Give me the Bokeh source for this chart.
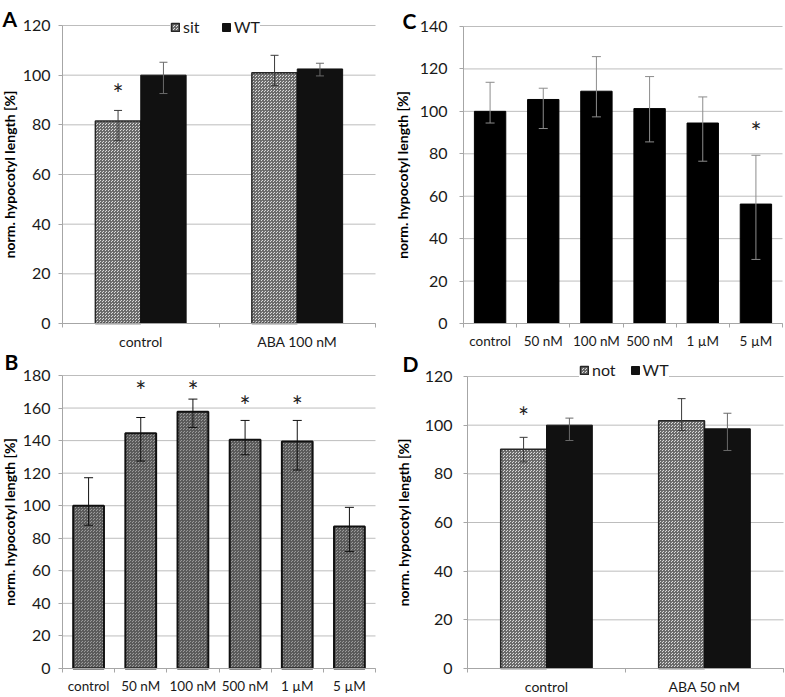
from bokeh.plotting import figure
from bokeh.models import (ColumnDataSource, Whisker, TeeHead, FixedTicker, Label,
                          Legend, LegendItem, Range1d)
from bokeh.layouts import column, row
from bokeh.embed import file_html
from bokeh.resources import INLINE
from bokeh.core.properties import value

# ---------------- data ----------------
# Panel A
a_groups = ["control", "ABA 100 nM"]
a_sit = [81.5, 101.0]
a_sit_lo = [73.6, 95.8]
a_sit_hi = [85.8, 108.0]
a_wt = [100.0, 102.5]
a_wt_lo = [92.6, 99.7]
a_wt_hi = [105.2, 104.8]
a_star_group = ["control"]
a_star_y = [95.0]
a_yticks = [0, 20, 40, 60, 80, 100, 120]

# Panel B
b_conc = ["control", "50 nM", "100 nM", "500 nM", "1 µM", "5 µM"]
b_val = [100.0, 144.5, 157.7, 140.5, 139.5, 87.3]
b_lo = [88.0, 127.4, 148.1, 131.3, 121.9, 71.8]
b_hi = [117.2, 154.2, 165.5, 152.4, 152.4, 99.0]
b_star_conc = ["50 nM", "100 nM", "500 nM", "1 µM"]
b_star_y = [174.3, 174.3, 164.7, 164.7]
b_yticks = [0, 20, 40, 60, 80, 100, 120, 140, 160, 180]

# Panel C
c_conc = ["control", "50 nM", "100 nM", "500 nM", "1 µM", "5 µM"]
c_val = [100.0, 105.6, 109.5, 101.3, 94.5, 56.3]
c_lo = [94.5, 91.9, 97.4, 85.6, 76.5, 30.2]
c_hi = [113.7, 110.9, 125.8, 116.4, 106.8, 79.3]
c_star_conc = ["5 µM"]
c_star_y = [93.0]
c_yticks = [0, 20, 40, 60, 80, 100, 120, 140]

# Panel D
d_groups = ["control", "ABA 50 nM"]
d_not = [90.1, 101.8]
d_not_lo = [84.9, 97.8]
d_not_hi = [95.0, 110.9]
d_wt = [100.0, 98.5]
d_wt_lo = [93.7, 89.6]
d_wt_hi = [102.9, 104.9]
d_star_group = ["control"]
d_star_y = [106.0]
d_yticks = [0, 20, 40, 60, 80, 100, 120]

FONT = "Lato"
GRID = "#bdbdbd"
AXIS = "#a6a6a6"
TXT = "#1a1a1a"


def base(W, H, cats, yticks, box, lab_standoff, letter, letter_pos, xfs="14px"):
    """box = (left, right, top, bottom) pixel edges of the plotting area."""
    n = len(cats)
    L, R, T, B = box
    ymax = yticks[-1]
    ux = n / (R - L)
    uy = ymax / (B - T)
    xr = Range1d(0.5 - L * ux, n + 0.5 + (W - R) * ux)
    yr = Range1d(-(H - B) * uy, ymax + T * uy)
    p = figure(width=W, height=H, output_backend="svg", toolbar_location=None,
               x_range=xr, y_range=yr, title=None,
               min_border_left=0, min_border_right=0, min_border_top=0,
               min_border_bottom=0)
    p.outline_line_color = None
    p.background_fill_color = "white"
    p.border_fill_color = "white"
    p.grid.visible = False
    # horizontal grid lines restricted to the plotting area
    p.segment(x0=[0.5] * len(yticks), x1=[n + 0.5] * len(yticks), y0=yticks, y1=yticks,
              line_color=GRID, line_width=1)
    # y axis
    p.yaxis.fixed_location = 0.5
    p.yaxis.bounds = (yticks[0], ymax)
    p.yaxis.ticker = FixedTicker(ticks=yticks)
    p.yaxis.axis_line_color = AXIS
    p.yaxis.major_tick_line_color = AXIS
    p.yaxis.major_tick_out = 4
    p.yaxis.major_tick_in = 0
    p.yaxis.minor_tick_line_color = None
    p.yaxis.major_label_text_font = FONT
    p.yaxis.major_label_text_font_size = "16px"
    p.yaxis.major_label_text_color = TXT
    p.yaxis.major_label_standoff = lab_standoff[0]
    p.yaxis.axis_label = "norm. hypocotyl length [%]"
    p.yaxis.axis_label_text_font = FONT
    p.yaxis.axis_label_text_font_style = "bold"
    p.yaxis.axis_label_text_font_size = "14px"
    p.yaxis.axis_label_text_color = "#000000"
    p.yaxis.axis_label_standoff = lab_standoff[1]
    # x axis: labels at category centres, separator ticks between categories
    centres = [i + 1 for i in range(n)]
    seps = [i + 0.5 for i in range(n + 1)]
    p.xaxis.fixed_location = 0
    p.xaxis.bounds = (0.5, n + 0.5)
    p.xaxis.ticker = FixedTicker(ticks=centres, minor_ticks=seps)
    p.xaxis.major_label_overrides = {c: lab for c, lab in zip(centres, cats)}
    p.xaxis.axis_line_color = AXIS
    p.xaxis.major_tick_line_color = None
    p.xaxis.major_tick_out = 0
    p.xaxis.minor_tick_line_color = AXIS
    p.xaxis.minor_tick_out = 4
    p.xaxis.minor_tick_in = 0
    p.xaxis.major_label_text_font = FONT
    p.xaxis.major_label_text_font_size = xfs
    p.xaxis.major_label_text_color = TXT
    p.xaxis.major_label_standoff = 5
    # panel letter (pixel position converted to data coordinates)
    lx = xr.start + letter_pos[0] * ux
    ly = yr.end - letter_pos[1] * uy
    p.add_layout(Label(x=lx, y=ly, text=letter, text_font=FONT, text_font_style="bold",
                       text_font_size="21px", text_color="#000000",
                       text_baseline="alphabetic", text_align="left"))
    return p


def whisk(p, x, lo, hi, color, size):
    src = ColumnDataSource(dict(x=x, lo=lo, hi=hi))
    w = Whisker(base="x", lower="lo", upper="hi", source=src, level="overlay",
                line_color=color, line_width=1,
                upper_head=TeeHead(size=size, line_color=color, line_width=1),
                lower_head=TeeHead(size=size, line_color=color, line_width=1))
    p.add_layout(w)


def stars(p, cats, star_cats, star_y, dx=0.0):
    xs = [cats.index(c) + 1 + dx for c in star_cats]
    p.text(x=xs, y=star_y, text=["*"] * len(xs), text_font=value(FONT),
           text_font_size="26px", text_align="center", text_baseline="middle",
           text_color="#222222", y_offset=6)


def grouped(p, groups, s1, s1lo, s1hi, s2, s2lo, s2hi, names, star_group, star_y,
            legend_loc, spacing):
    bw = 0.29
    x1 = [i + 1 - bw / 2 for i in range(len(groups))]
    x2 = [i + 1 + bw / 2 for i in range(len(groups))]
    r1 = p.vbar(x=x1, top=s1, width=bw, bottom=0, fill_color="#dadada",
                hatch_pattern="criss_cross", hatch_color="#6a6a6a", hatch_scale=3,
                hatch_weight=1, line_color="#262626", line_width=1.5)
    r2 = p.vbar(x=x2, top=s2, width=bw, bottom=0, fill_color="#111111",
                line_color="#111111", line_width=1)
    whisk(p, x1, s1lo, s1hi, "#3a3a3a", 8)
    whisk(p, x2, s2lo, s2hi, "#6a6a6a", 8)
    stars(p, groups, star_group, star_y, dx=-bw / 2)
    leg = Legend(items=[LegendItem(label=names[0], renderers=[r1]),
                        LegendItem(label=names[1], renderers=[r2])],
                 orientation="horizontal", location=legend_loc,
                 background_fill_color="white", background_fill_alpha=1.0,
                 border_line_color=None, label_text_font=FONT,
                 label_text_font_size="16px", label_text_color=TXT,
                 glyph_width=10, glyph_height=10, label_standoff=3,
                 spacing=spacing, padding=10, margin=0, label_height=18)
    p.add_layout(leg)
    return p


# ---------------- Panel A ----------------
pA = base(392, 350, a_groups, a_yticks, (62, 375, 25, 323), (8, 2), "A", (2, 18))
grouped(pA, a_groups, a_sit, a_sit_lo, a_sit_hi, a_wt, a_wt_lo, a_wt_hi,
        ["sit", "WT"], a_star_group, a_star_y, (170, 314), 18)

# ---------------- Panel C ----------------
pC = base(392, 350, c_conc, c_yticks, (71, 390, 26, 323), (12, 6), "C", (10, 20), "13.5px")
pC.vbar(x=[i + 1 for i in range(len(c_conc))], top=c_val, width=0.59, bottom=0,
        fill_color="#000000", line_color="#000000")
whisk(pC, [i + 1 for i in range(len(c_conc))], c_lo, c_hi, "#8c8c8c", 9)
stars(pC, c_conc, c_star_conc, c_star_y)

# ---------------- Panel B ----------------
pB = base(392, 346, b_conc, b_yticks, (62, 375, 25, 318), (8, 2), "B", (4, 11), "13.5px")
pB.vbar(x=[i + 1 for i in range(len(b_conc))], top=b_val, width=0.59, bottom=0,
        fill_color="#9a9a9a", hatch_pattern="criss_cross", hatch_color="#5a5a5a",
        hatch_scale=3, hatch_weight=1, line_color="#111111", line_width=2)
whisk(pB, [i + 1 for i in range(len(b_conc))], b_lo, b_hi, "#111111", 9)
stars(pB, b_conc, b_star_conc, b_star_y)

# ---------------- Panel D ----------------
pD = base(392, 346, d_groups, d_yticks, (75, 391, 26, 318), (11, 10), "D", (10, 13))
grouped(pD, d_groups, d_not, d_not_lo, d_not_hi, d_wt, d_wt_lo, d_wt_hi,
        ["not", "WT"], d_star_group, d_star_y, (187, 317), 14)

layout = column(row(pA, pC), row(pB, pD))
open("out.html", "w").write(file_html(layout, INLINE))
